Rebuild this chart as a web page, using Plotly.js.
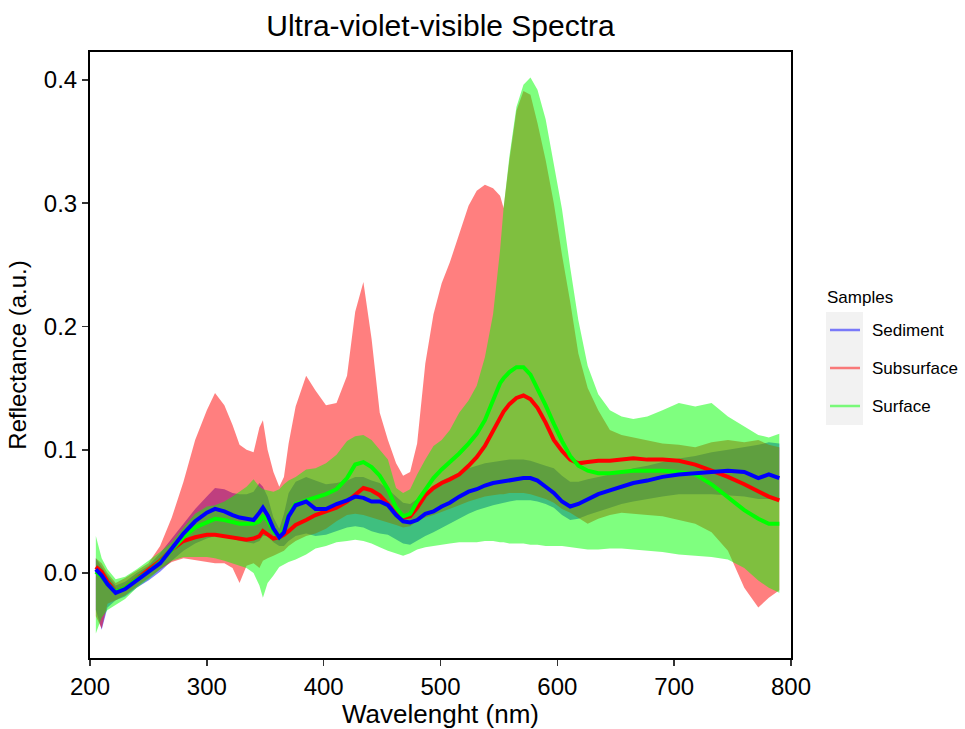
<!DOCTYPE html>
<html>
<head>
<meta charset="utf-8">
<script src="https://cdn.plot.ly/plotly-3.0.1.min.js"></script>
<style>html,body{margin:0;padding:0;background:#fff;}#chart{width:965px;height:729px;}</style>
</head>
<body>
<div id="chart"></div>
<script>
// Wavelength grid (nm)
const wavelength = [205,210,215,222,230,240,250,260,270,280,
 290,300,307,315,322,328,334,340,345,348,
 352,357,362,366,370,376,385,393,402,411,
 420,427,434,441,448,455,462,468,474,480,
 487,494,501,508,516,524,531,538,545,551,
 554,559,565,571,577,583,590,597,604,611,
 618,626,635,645,655,665,677,690,704,718,
 732,746,760,772,781,790];

// Sediment
const sedimentMean = [0.003,-0.002,-0.009,-0.016,-0.013,-0.006,0.000,0.008,0.020,0.032,
 0.042,0.049,0.052,0.050,0.047,0.045,0.044,0.043,0.049,0.053,
 0.047,0.036,0.029,0.033,0.046,0.055,0.058,0.052,0.052,0.056,
 0.059,0.062,0.061,0.058,0.058,0.055,0.047,0.042,0.041,0.043,
 0.048,0.050,0.054,0.057,0.062,0.066,0.068,0.071,0.073,0.074,
 0.074,0.075,0.076,0.077,0.077,0.075,0.070,0.065,0.058,0.054,
 0.056,0.060,0.064,0.067,0.070,0.073,0.075,0.078,0.080,0.081,
 0.082,0.083,0.082,0.077,0.080,0.077];
const sedimentMax = [0.012,0.005,-0.002,-0.010,-0.007,0.000,0.006,0.016,0.028,0.040,
 0.052,0.062,0.069,0.068,0.065,0.064,0.064,0.066,0.073,0.070,
 0.062,0.045,0.036,0.048,0.065,0.074,0.078,0.075,0.072,0.073,
 0.075,0.078,0.078,0.075,0.073,0.068,0.062,0.057,0.056,0.060,
 0.066,0.070,0.075,0.078,0.082,0.085,0.087,0.089,0.090,0.091,
 0.091,0.092,0.092,0.092,0.091,0.089,0.087,0.085,0.079,0.074,
 0.074,0.076,0.078,0.080,0.082,0.085,0.087,0.090,0.093,0.095,
 0.098,0.100,0.102,0.104,0.106,0.105];
const sedimentMin = [-0.030,-0.046,-0.028,-0.022,-0.019,-0.012,-0.006,0.001,0.010,0.018,
 0.024,0.028,0.030,0.030,0.028,0.026,0.025,0.024,0.026,0.030,
 0.030,0.025,0.022,0.022,0.026,0.030,0.032,0.030,0.031,0.034,
 0.037,0.038,0.037,0.034,0.032,0.031,0.027,0.024,0.023,0.026,
 0.030,0.033,0.036,0.040,0.044,0.048,0.051,0.053,0.055,0.056,
 0.057,0.058,0.059,0.059,0.059,0.058,0.056,0.053,0.047,0.043,
 0.044,0.047,0.050,0.053,0.056,0.058,0.060,0.062,0.064,0.064,
 0.064,0.063,0.062,0.060,0.060,0.060];

// Subsurface
const subsurfaceMean = [0.005,0.001,-0.007,-0.015,-0.012,-0.005,0.002,0.010,0.019,0.026,
 0.029,0.031,0.031,0.030,0.029,0.028,0.027,0.028,0.030,0.034,
 0.031,0.028,0.029,0.031,0.034,0.039,0.043,0.047,0.050,0.053,
 0.058,0.064,0.069,0.067,0.063,0.056,0.048,0.045,0.046,0.053,
 0.063,0.069,0.073,0.076,0.080,0.087,0.094,0.103,0.116,0.127,
 0.131,0.137,0.142,0.144,0.141,0.134,0.122,0.108,0.099,0.092,
 0.089,0.090,0.091,0.091,0.092,0.093,0.092,0.092,0.091,0.088,
 0.083,0.078,0.072,0.066,0.062,0.059];
const subsurfaceMax = [0.012,0.008,0.000,-0.008,-0.004,0.002,0.008,0.022,0.045,0.074,
 0.108,0.132,0.146,0.136,0.120,0.104,0.100,0.098,0.118,0.124,
 0.100,0.082,0.070,0.078,0.105,0.135,0.160,0.148,0.136,0.138,
 0.160,0.212,0.236,0.190,0.130,0.108,0.089,0.079,0.082,0.105,
 0.170,0.210,0.235,0.252,0.275,0.298,0.310,0.315,0.312,0.306,
 0.296,0.335,0.375,0.391,0.388,0.365,0.335,0.300,0.258,0.220,
 0.178,0.150,0.132,0.116,0.112,0.110,0.107,0.105,0.104,0.102,
 0.106,0.108,0.106,0.108,0.104,0.102];
const subsurfaceMin = [-0.035,-0.045,-0.025,-0.022,-0.018,-0.011,-0.004,0.003,0.009,0.012,
 0.010,0.009,0.008,0.008,0.004,-0.008,0.006,0.008,0.004,0.010,
 0.012,0.014,0.016,0.018,0.022,0.026,0.030,0.032,0.036,0.042,
 0.047,0.048,0.047,0.045,0.043,0.041,0.039,0.037,0.038,0.042,
 0.045,0.047,0.050,0.052,0.055,0.058,0.060,0.062,0.063,0.064,
 0.064,0.065,0.065,0.065,0.064,0.062,0.060,0.057,0.052,0.049,
 0.045,0.040,0.044,0.047,0.049,0.048,0.047,0.046,0.043,0.040,
 0.033,0.018,-0.012,-0.028,-0.020,-0.014];

// Surface
const surfaceMean = [0.001,-0.003,-0.009,-0.015,-0.012,-0.005,0.001,0.009,0.019,0.029,
 0.037,0.041,0.044,0.043,0.041,0.040,0.040,0.040,0.042,0.046,
 0.043,0.034,0.029,0.035,0.047,0.056,0.059,0.061,0.064,0.068,
 0.077,0.088,0.090,0.086,0.079,0.068,0.053,0.046,0.048,0.058,
 0.068,0.077,0.084,0.090,0.097,0.105,0.113,0.124,0.140,0.154,
 0.158,0.163,0.167,0.167,0.161,0.150,0.136,0.121,0.107,0.095,
 0.087,0.083,0.081,0.081,0.082,0.083,0.083,0.083,0.082,0.080,
 0.072,0.061,0.051,0.044,0.040,0.040];
const surfaceMax = [0.030,0.012,0.003,-0.005,-0.003,0.003,0.010,0.017,0.025,0.037,
 0.048,0.054,0.055,0.058,0.062,0.066,0.070,0.076,0.070,0.068,
 0.067,0.066,0.068,0.072,0.075,0.078,0.084,0.085,0.089,0.096,
 0.107,0.111,0.112,0.108,0.100,0.092,0.069,0.065,0.068,0.080,
 0.092,0.103,0.108,0.116,0.130,0.140,0.152,0.175,0.210,0.262,
 0.296,0.338,0.378,0.396,0.402,0.392,0.368,0.330,0.295,0.248,
 0.205,0.168,0.145,0.132,0.127,0.125,0.127,0.132,0.138,0.135,
 0.138,0.127,0.119,0.112,0.110,0.113];
const surfaceMin = [-0.049,-0.036,-0.030,-0.026,-0.021,-0.012,-0.005,0.003,0.010,0.013,
 0.013,0.013,0.012,0.010,0.008,0.006,0.004,0.000,-0.010,-0.020,
 -0.008,-0.002,0.005,0.007,0.009,0.011,0.015,0.020,0.022,0.025,
 0.026,0.027,0.026,0.024,0.021,0.018,0.016,0.014,0.016,0.019,
 0.021,0.022,0.023,0.024,0.025,0.025,0.025,0.026,0.026,0.025,
 0.025,0.024,0.024,0.024,0.023,0.023,0.022,0.022,0.022,0.021,
 0.020,0.019,0.019,0.020,0.020,0.019,0.018,0.017,0.015,0.014,
 0.013,0.011,0.004,-0.006,-0.012,-0.016];

const sampleNames = ['Sediment','Subsurface','Surface'];
const xTicks = [200,300,400,500,600,700,800];
const yTicks = [0.0,0.1,0.2,0.3,0.4];

const FONT = 'Liberation Sans, Arial, Helvetica, sans-serif';

function ribbon(lo, hi, color) {
  return {
    x: wavelength.concat(wavelength.slice().reverse()),
    y: hi.concat(lo.slice().reverse()),
    type: 'scatter', mode: 'lines', fill: 'toself',
    fillcolor: color, line: {width: 0, color: 'rgba(0,0,0,0)'},
    hoverinfo: 'skip', showlegend: false
  };
}
function meanLine(y, color, name) {
  return {x: wavelength, y: y, type: 'scatter', mode: 'lines', name: name,
    line: {color: color, width: 4}, showlegend: false};
}

const traces = [
  ribbon(sedimentMin, sedimentMax, 'rgba(0,0,255,0.5)'),
  ribbon(subsurfaceMin, subsurfaceMax, 'rgba(255,0,0,0.5)'),
  ribbon(surfaceMin, surfaceMax, 'rgba(0,255,0,0.5)'),
  meanLine(subsurfaceMean, '#ff0000', sampleNames[1]),
  meanLine(surfaceMean, '#00ff00', sampleNames[2]),
  meanLine(sedimentMean, '#0000ff', sampleNames[0])
];

// manual legend (ggplot style) in paper coordinates
const L = 90, R = 791, T = 52, B = 658;
const px = v => (v - L) / (R - L);
const py = v => (B - v) / (B - T);
const keyColors = ['rgba(0,0,255,0.5)','rgba(255,0,0,0.5)','rgba(0,255,0,0.5)'];
const keyY = [330, 368, 406];
const shapes = [{type:'rect', xref:'paper', yref:'paper', x0:px(826), x1:px(863), y0:py(425), y1:py(312),
  fillcolor:'#f2f2f2', line:{width:0}, layer:'below'}];
const annotations = [{xref:'paper', yref:'paper', x:px(825), y:py(297), text:'Samples', showarrow:false,
  xanchor:'left', yanchor:'middle', font:{family:FONT, size:17, color:'#000'}}];
sampleNames.forEach((n,i) => {
  shapes.push({type:'line', xref:'paper', yref:'paper', x0:px(830), x1:px(860), y0:py(keyY[i]), y1:py(keyY[i]),
    line:{color:keyColors[i], width:2.5}});
  annotations.push({xref:'paper', yref:'paper', x:px(870), y:py(keyY[i]), text:n, showarrow:false,
    xanchor:'left', yanchor:'middle', font:{family:FONT, size:17, color:'#000'}});
});

const layout = {
  width: 965, height: 729,
  margin: {l: L, r: 965 - R, t: T, b: 729 - B, pad: 0},
  paper_bgcolor: '#fff', plot_bgcolor: '#fff',
  font: {family: FONT, color: '#000'},
  title: {text: 'Ultra-violet-visible Spectra', x: 0.5, xref: 'paper', xanchor: 'center',
    y: 1 - 25/729, yref: 'container', yanchor: 'middle', font: {family: FONT, size: 30, color: '#000'}},
  xaxis: {range: [200, 800], tickvals: xTicks, ticktext: xTicks.map(String),
    showline: true, mirror: true, linecolor: '#000', linewidth: 2,
    ticks: 'outside', ticklen: 6, tickwidth: 1.5, tickcolor: '#333',
    showgrid: false, zeroline: false, tickfont: {family: FONT, size: 24, color: '#000'},
    title: {text: 'Wavelenght (nm)', font: {family: FONT, size: 26, color: '#000'}, standoff: 3}},
  yaxis: {range: [-0.0689, 0.4226], tickvals: yTicks, ticktext: yTicks.map(v => v.toFixed(1)),
    showline: true, mirror: true, linecolor: '#000', linewidth: 2,
    ticks: 'outside', ticklen: 6, tickwidth: 1.5, tickcolor: '#333',
    showgrid: false, zeroline: false, tickfont: {family: FONT, size: 24, color: '#000'},
    title: {text: 'Reflectance (a.u.)', font: {family: FONT, size: 24, color: '#000'}, standoff: 10}},
  shapes: shapes, annotations: annotations, showlegend: false
};

Plotly.newPlot('chart', traces, layout, {displayModeBar: false, staticPlot: true});
</script>
</body>
</html>
